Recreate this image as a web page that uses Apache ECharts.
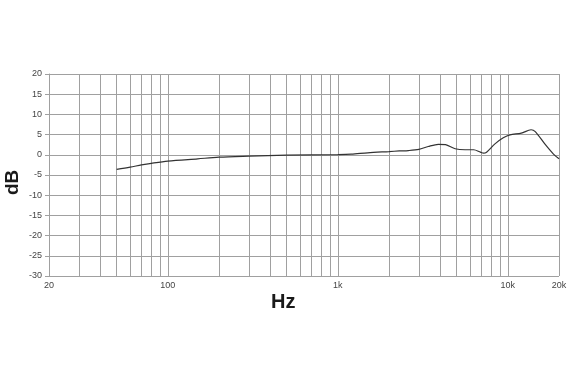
<!DOCTYPE html>
<html>
<head>
<meta charset="utf-8">
<script src="https://cdn.jsdelivr.net/npm/echarts@6/dist/echarts.min.js"></script>
<style>
html,body{margin:0;padding:0;background:#fff;}
#c{width:567px;height:380px;}
</style>
</head>
<body>
<div id="c"></div>
<script>
// Frequency (Hz) and response (dB)
var freqs = [50, 60, 70, 80, 100, 150, 200, 300, 500, 1000, 1200, 1500, 2000, 2300, 2600, 3000, 3400, 3900, 4300, 4900, 5600, 6300, 6900, 7200, 7500, 8400, 9400, 10300, 12000, 13700, 14500, 16500, 18500, 20000];
var levels = [-3.6, -3.05, -2.5, -2.1, -1.55, -1.0, -0.6, -0.35, -0.1, 0.05, 0.15, 0.5, 0.8, 0.95, 1.05, 1.35, 2.05, 2.6, 2.5, 1.5, 1.25, 1.25, 0.65, 0.4, 0.65, 2.7, 4.2, 4.95, 5.35, 6.2, 5.75, 2.7, 0.25, -1.0];
// minor vertical grid frequencies
var minorGrid = [30, 40, 50, 60, 70, 80, 90, 200, 300, 400, 500, 600, 700, 800, 900, 2000, 3000, 4000, 5000, 6000, 7000, 8000, 9000];
var xMin = 20, xMax = 20000;
var yMin = -30, yMax = 20, yStep = 5;
var xTitle = 'Hz', yTitle = 'dB';

var gridColor = '#a0a0a0';
var chart = echarts.init(document.getElementById('c'), null, {renderer: 'canvas'});
var data = freqs.map(function (f, i) { return [f, levels[i]]; });
chart.setOption({
  animation: false,
  backgroundColor: '#fff',
  grid: {left: 49, right: 8, top: 74, bottom: 104, containLabel: false, outerBoundsMode: 'none'},
  xAxis: {
    type: 'log', logBase: 10, min: xMin, max: xMax,
    axisLine: {show: true, lineStyle: {color: gridColor, width: 1}},
    axisTick: {show: true, length: 4, lineStyle: {color: gridColor}},
    axisLabel: {
      fontFamily: 'Liberation Sans, Arial, sans-serif', fontSize: 9, color: '#444', margin: 5,
      showMinLabel: true, showMaxLabel: true,
      formatter: function (v) { v = Math.round(v); return v >= 1000 ? Math.round(v / 1000) + 'k' : String(v); }
    },
    splitLine: {show: true, lineStyle: {color: gridColor, width: 1}}
  },
  yAxis: {
    type: 'value', min: yMin, max: yMax, interval: yStep,
    axisLine: {show: true, lineStyle: {color: gridColor, width: 1}},
    axisTick: {show: true, length: 4, lineStyle: {color: gridColor}},
    axisLabel: {fontFamily: 'Liberation Sans, Arial, sans-serif', fontSize: 9, color: '#444', margin: 7},
    splitLine: {show: true, lineStyle: {color: gridColor, width: 1}}
  },
  graphic: [
    {type: 'text', left: 271, top: 292, style: {text: xTitle, font: 'bold 20px "Liberation Sans", Arial, sans-serif', fill: '#1a1a1a'}},
    {type: 'text', x: 3, y: 195, rotation: Math.PI / 2, style: {text: yTitle, font: 'bold 19px "Liberation Sans", Arial, sans-serif', fill: '#1a1a1a'}}
  ],
  series: [{
    type: 'line', data: data, smooth: 0.3, showSymbol: false, symbol: 'none',
    lineStyle: {color: '#333', width: 1.2},
    z: 5,
    markLine: {
      silent: true, symbol: ['none', 'none'], animation: false,
      label: {show: false},
      lineStyle: {color: gridColor, type: 'solid', width: 1},
      z: 1,
      data: minorGrid.map(function (f) { return {xAxis: f}; })
    }
  }]
});
</script>
</body>
</html>
